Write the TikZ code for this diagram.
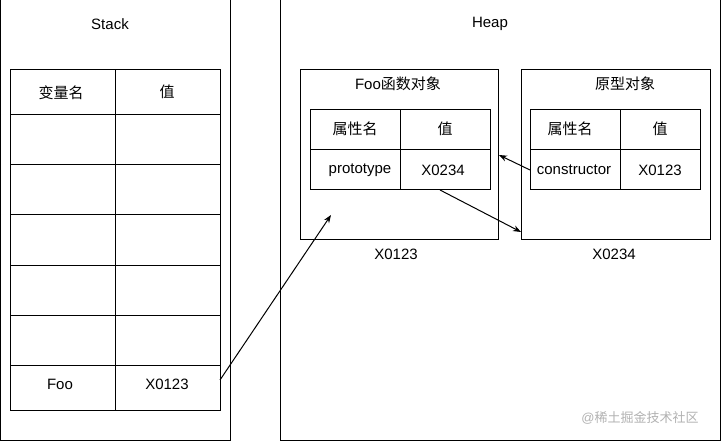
\documentclass[tikz,border=0pt]{standalone}
\usepackage{fontspec}
\setmainfont{Liberation Sans}
\newfontfamily\cjk{Noto Sans CJK SC}
\usetikzlibrary{arrows.meta}
\begin{document}
\begin{tikzpicture}[x=1pt,y=-1pt,
  box/.style={draw,line width=1pt},
  t/.style={font=\fontsize{15}{17}\selectfont},
  arr/.style={-{Stealth[length=8pt,width=6pt]},line width=1pt}]
\useasboundingbox (0,0) rectangle (721,441);
\fill[white] (0,0) rectangle (721,441);
% Stack
\draw[box] (0,0) rectangle (230,440);
\node[t] (stk) at (110,24) {Stack};
\draw[box] (10,70) rectangle (220,410);
\foreach \y in {115,165,215,265,315,365} \draw[box] (10,\y) -- (220,\y);
\draw[box] (115,70) -- (115,410);
\node[t] (h1) at (61,93) {\cjk 变量名};
\node[t] (h2) at (167,92) {\cjk 值};
\node[t] (foo) at (60,384) {Foo};
\node[t] (fooval) at (167,384) {X0123};
\coordinate (s) at (220,380);
% Heap
\draw[box] (280,0) rectangle (720,440);
\node[t] (heap) at (490,24) {Heap};
\draw[box] (300,70) rectangle (498,240);
\node[t] (ft) at (398,84) {Foo{\cjk 函数对象}};
\draw[box] (310,110) rectangle (490,190);
\draw[box] (310,150) -- (490,150);
\draw[box] (400,110) -- (400,190);
\node[t] at (355,129) {\cjk 属性名};
\node[t] at (445,129) {\cjk 值};
\node[t] (pk) at (360,170) {prototype};
\node[t] (pv) at (443,170) {X0234};
\draw[box] (521,70) rectangle (710,240);
\node[t] (pt) at (625,84) {\cjk 原型对象};
\draw[box] (530,110) rectangle (700,190);
\draw[box] (530,150) -- (700,150);
\draw[box] (620,110) -- (620,190);
\node[t] at (570,129) {\cjk 属性名};
\node[t] at (660,129) {\cjk 值};
\node[t] (ck) at (574,170) {constructor};
\node[t] (cv) at (660,170) {X0123};
\node[t] (a1) at (396,254) {X0123};
\node[t] (a2) at (614,254) {X0234};
\coordinate (fin) at (331,215);
\coordinate (pin) at (521,232);
\coordinate (pout) at (440,190);
\coordinate (cout) at (530,170);
\coordinate (fin2) at (499,155);
\draw[arr] (s) -- (fin);
\draw[arr] (pout) -- (pin);
\draw[arr] (cout) -- (fin2);
\node[font=\fontsize{13}{15}\selectfont,text=gray!60] (wm) at (640,418) {@{\cjk 稀土掘金技术社区}};
\end{tikzpicture}
\end{document}
